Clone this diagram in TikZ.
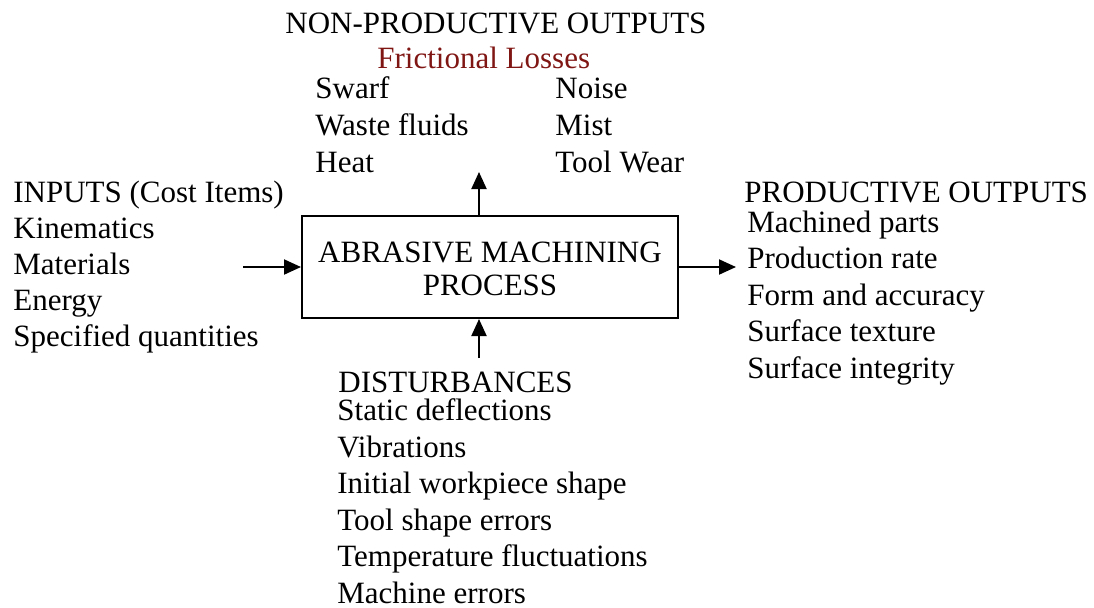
\documentclass[tikz,border=0pt]{standalone}
\usepackage{fontspec}
\setmainfont{Liberation Serif}
\usepackage{tikz}
\usetikzlibrary{arrows.meta}
\definecolor{lossred}{RGB}{128,22,20}

\begin{document}
\begin{tikzpicture}[x=0.5pt,y=-0.5pt,font=\fontsize{15.5}{17.5}\selectfont,
    txt/.style={inner sep=0pt,anchor=base west},
    flow/.style={line width=1pt,-{Triangle[length=8.5pt,width=7.5pt]}}]
  \useasboundingbox (0,0) rectangle (1094,607);
  \node[draw,line width=1pt,minimum width=188pt,minimum height=51pt,inner sep=0pt] (box) at (490,267) {};
  \node[align=center,inner sep=0pt,font=\fontsize{15.5}{16.5}\selectfont] (proc) at (490,269) {ABRASIVE MACHINING\\PROCESS};
  % inputs
  \node[txt] (inputs) at (13,202) {INPUTS (Cost Items)};
  \foreach \t [count=\i] in {Kinematics,Materials,Energy,Specified quantities}{\node[txt] (in\i) at (13,202+36*\i) {\t};}
  % productive outputs
  \node[txt] (prod) at (744,202) {PRODUCTIVE OUTPUTS};
  \foreach \t [count=\i] in {Machined parts,Production rate,Form and accuracy,Surface texture,Surface integrity}{\node[txt] (out\i) at (747,195.5+36.5*\i) {\t};}
  % non-productive outputs
  \node[txt] (nonprod) at (285,33) {NON-PRODUCTIVE OUTPUTS};
  \node[txt,text=lossred] (loss) at (377,68) {Frictional Losses};
  \foreach \t [count=\i] in {Swarf,Waste fluids,Heat}{\node[txt] (la\i) at (315,61+37*\i) {\t};}
  \foreach \t [count=\i] in {Noise,Mist,Tool Wear}{\node[txt] (lb\i) at (555,61+37*\i) {\t};}
  % disturbances
  \node[txt] (dist) at (338,392) {DISTURBANCES};
  \foreach \t [count=\i] in {Static deflections,Vibrations,Initial workpiece shape,Tool shape errors,Temperature fluctuations,Machine errors}{\node[txt] (d\i) at (337,384+36.5*\i) {\t};}
  % arrows
  \coordinate (lin) at (243,267);
  \coordinate (rout) at (736,267);
  \coordinate (up) at (479,172);
  \coordinate (dn) at (479,358);
  \draw[flow] (lin) -- (box.west);
  \draw[flow] (box.east) -- (rout);
  \draw[flow] (box.north -| up) -- (up);
  \draw[flow] (dn) -- (box.south -| dn);
\end{tikzpicture}
\end{document}
